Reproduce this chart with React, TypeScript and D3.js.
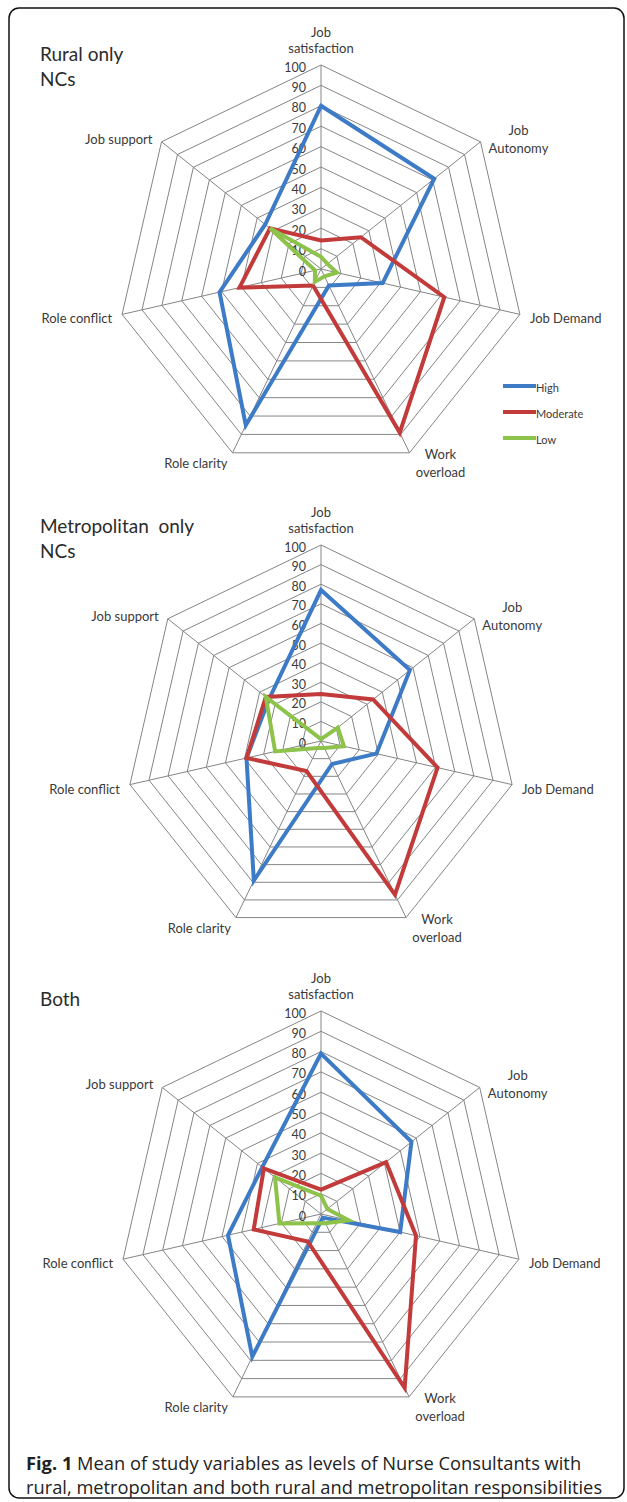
import React from "react";
import * as d3 from "d3";

const categories = ["Job satisfaction", "Job Autonomy", "Job Demand", "Work overload", "Role clarity", "Role conflict", "Job support"];
const categoryLines = [["Job", "satisfaction"], ["Job", "Autonomy"], ["Job Demand"], ["Work", "overload"], ["Role clarity"], ["Role conflict"], ["Job support"]];
const tickValues = [0, 10, 20, 30, 40, 50, 60, 70, 80, 90, 100];
const seriesNames = ["High", "Moderate", "Low"];

const ruralHigh = [80, 71, 31, 9, 85, 51, 35];
const ruralModerate = [14, 25, 62, 89, 9, 41, 32];
const ruralLow = [6, 4, 8, 4, 7, 3, 32];

const metroHigh = [77, 58, 29, 13, 79, 39, 34];
const metroModerate = [24, 34, 61, 87, 17, 39, 36];
const metroLow = [1, 11, 12, 4, 4, 24, 36];

const bothHigh = [79, 57, 40, 2, 78, 47, 37];
const bothModerate = [12, 41, 48, 95, 15, 34, 36];
const bothLow = [9, 4, 14, 5, 5, 21, 29];

const panelTitles = [["Rural only", "NCs"], ["Metropolitan  only", "NCs"], ["Both"]];
const captionBold = "Fig. 1";
const captionLines = [
  " Mean of study variables as levels of Nurse Consultants with",
  "rural, metropolitan and both rural and metropolitan responsibilities",
];

const COLORS = ["#3E7BC6", "#C23A3A", "#8DC24B"];
const FONT = "Lato, 'Open Sans', sans-serif";

type PanelProps = { cx: number; cy: number; r: number; title: string[]; data: number[][]; legend: boolean };

function Radar({ cx, cy, r, title, data, legend }: PanelProps) {
  const n = categories.length;
  const angle = d3.scaleLinear().domain([0, n]).range([0, 2 * Math.PI]);
  const rad = d3.scaleLinear().domain([0, 100]).range([0, r]);
  const line = d3
    .lineRadial<number>()
    .angle((_, i) => angle(i))
    .radius((v) => rad(v))
    .curve(d3.curveLinearClosed);
  const vertex = (i: number, v: number) => {
    const a = angle(i);
    return [Math.sin(a) * rad(v), -Math.cos(a) * rad(v)];
  };
  const labelPos = (i: number) => {
    const [vx, vy] = vertex(i, 100);
    switch (i) {
      case 0: return { x: vx, ys: [vy - 33, vy - 17], anchor: "middle" };
      case 1: return { x: vx + 38, ys: [vy - 12, vy + 6], anchor: "middle" };
      case 2: return { x: vx + 10, ys: [vy + 4], anchor: "start" };
      case 3: return { x: vx + 31, ys: [vy + 1, vy + 19], anchor: "middle" };
      case 4: return { x: vx - 5, ys: [vy + 10], anchor: "end" };
      case 5: return { x: vx - 10, ys: [vy + 4], anchor: "end" };
      default: return { x: vx - 9, ys: [vy - 3], anchor: "end" };
    }
  };
  return (
    <g transform={`translate(${cx},${cy})`}>
      <text x={40 - cx} y={-216} fontSize={19} fill="#2b2b2b" fontFamily={FONT} dominantBaseline="central" style={{ whiteSpace: "pre" }}>
        {title[0]}
      </text>
      {title[1] && (
        <text x={40 - cx} y={-191} fontSize={19} fill="#2b2b2b" fontFamily={FONT} dominantBaseline="central">
          {title[1]}
        </text>
      )}
      {tickValues.slice(1).map((t) => (
        <path key={"ring" + t} d={line(categories.map(() => t)) || ""} fill="none" stroke="#858585" strokeWidth={1} />
      ))}
      {categories.map((c, i) => {
        const [x, y] = vertex(i, 100);
        return <line key={"sp" + c} x1={0} y1={0} x2={x} y2={y} stroke="#858585" strokeWidth={1} />;
      })}
      {tickValues.map((t) => (
        <text key={"tk" + t} x={-15} y={-rad(t) + 2} fontSize={12.5} fill="#3a3a3a" textAnchor="end" fontFamily={FONT} dominantBaseline="central">
          {t}
        </text>
      ))}
      {data.map((vals, k) => (
        <path key={"s" + k} d={line(vals) || ""} fill="none" stroke={COLORS[k]} strokeWidth={4} strokeLinejoin="miter" />
      ))}
      {categoryLines.map((lines, i) => {
        const p = labelPos(i);
        return lines.map((ln, j) => (
          <text key={"lab" + i + "-" + j} x={p.x} y={p.ys[j]} fontSize={13} fill="#3a3a3a" textAnchor={p.anchor as any} fontFamily={FONT} dominantBaseline="central">
            {ln}
          </text>
        ));
      })}
      {legend &&
        seriesNames.map((s, k) => (
          <g key={"lg" + s} transform={`translate(${182},${117 + k * 26})`}>
            <line x1={0} x2={33} y1={0} y2={0} stroke={COLORS[k]} strokeWidth={4} />
            <text x={33} y={1} fontSize={11} fill="#3a3a3a" fontFamily={FONT} dominantBaseline="central">
              {s}
            </text>
          </g>
        ))}
    </g>
  );
}

export default function App() {
  const panels = [
    { cy: 269, r: 204, data: [ruralHigh, ruralModerate, ruralLow], legend: true },
    { cy: 741, r: 196, data: [metroHigh, metroModerate, metroLow], legend: false },
    { cy: 1214, r: 203, data: [bothHigh, bothModerate, bothLow], legend: false },
  ];
  return (
    <svg width={627} height={1502} style={{ position: "absolute", left: 0, top: 0, background: "#fff" }}>
      <rect x={9} y={8} width={615} height={1490} rx={10} ry={10} fill="#fff" stroke="#111" strokeWidth={1.5} />
      {panels.map((p, i) => (
        <Radar key={i} cx={321} cy={p.cy} r={p.r} title={panelTitles[i]} data={p.data} legend={p.legend} />
      ))}
      <text x={26} y={1462} fontSize={18.3} fill="#222" fontFamily="'Open Sans', sans-serif" dominantBaseline="central">
        <tspan fontWeight="bold">{captionBold}</tspan>
        {captionLines[0]}
      </text>
      <text x={26} y={1486} fontSize={18.3} fill="#222" fontFamily="'Open Sans', sans-serif" dominantBaseline="central">
        {captionLines[1]}
      </text>
    </svg>
  );
}
